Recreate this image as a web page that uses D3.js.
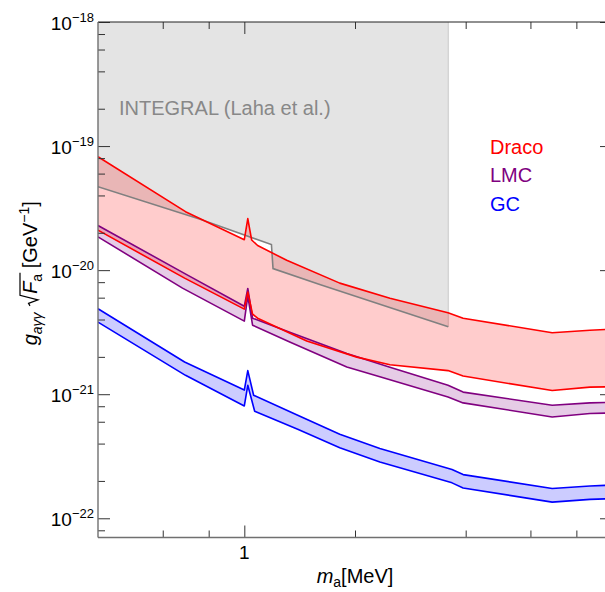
<!DOCTYPE html>
<html>
<head>
<meta charset="utf-8">
<script src="https://cdn.jsdelivr.net/npm/d3@7"></script>
<style>
  body { margin: 0; background: #fff; }
  text { font-family: "Liberation Sans", Arial, sans-serif; }
</style>
</head>
<body>
<div id="chart"></div>
<script>
// ---- data: [m_a (MeV), g*sqrt(F) (GeV^-1)] ----
const integralLine = [[0.4, 4.70e-20], [0.755, 2.58e-20], [1.185, 1.61e-20], [1.197, 1.03e-20], [1.604, 7.67e-21], [3.587, 3.49e-21]];

const dracoUpper = [[0.4, 8.2e-20], [0.692, 2.96e-20], [1.0, 1.76e-20], [1.022, 2.60e-20], [1.047, 1.75e-20], [1.087, 1.58e-20],
  [1.304, 1.20e-20], [1.818, 7.86e-21], [2.489, 5.94e-21], [3.581, 4.54e-21], [3.936, 4.10e-21], [6.876, 3.13e-21], [8.71, 3.28e-21], [10, 3.34e-21]];
const dracoLower = [[0.4, 2.10e-20], [0.688, 8.62e-21], [1.0, 4.85e-21], [1.022, 6.65e-21], [1.053, 4.42e-21], [1.087, 4.10e-21],
  [1.478, 2.68e-21], [2.023, 1.99e-21], [2.489, 1.73e-21], [3.581, 1.55e-21], [3.936, 1.40e-21], [6.876, 1.07e-21], [8.71, 1.14e-21], [10, 1.15e-21]];

const lmcUpper = [[0.4, 2.29e-20], [0.701, 9.11e-21], [1.0, 5.12e-21], [1.022, 7.12e-21], [1.053, 4.10e-21], [1.329, 3.16e-21],
  [1.900, 2.13e-21], [2.489, 1.65e-21], [3.581, 1.18e-21], [3.936, 1.04e-21], [6.876, 8.15e-22], [8.71, 8.51e-22], [10, 8.62e-22]];
const lmcLower = [[0.4, 1.855e-20], [0.679, 7.16e-21], [1.0, 3.88e-21], [1.022, 6.17e-21], [1.053, 3.60e-21], [1.329, 2.64e-21],
  [1.900, 1.66e-21], [2.337, 1.38e-21], [3.581, 9.51e-22], [3.936, 8.51e-22], [6.876, 6.56e-22], [8.71, 6.99e-22], [10, 7.07e-22]];

const gcUpper = [[0.4, 4.89e-21], [0.688, 1.82e-21], [1.0, 1.08e-21], [1.022, 1.55e-21], [1.060, 9.81e-22], [1.397, 6.77e-22],
  [1.818, 4.76e-22], [2.337, 3.65e-22], [3.672, 2.47e-22], [3.936, 2.25e-22], [6.876, 1.74e-22], [8.71, 1.82e-22], [10, 1.85e-22]];
const gcLower = [[0.4, 3.81e-21], [0.692, 1.42e-21], [1.0, 8.04e-22], [1.022, 1.18e-21], [1.067, 7.29e-22], [1.397, 5.22e-22],
  [1.818, 3.70e-22], [2.337, 2.84e-22], [3.672, 1.93e-22], [3.936, 1.755e-22], [6.876, 1.35e-22], [8.71, 1.42e-22], [10, 1.44e-22]];

const seriesNames = ['Draco', 'LMC', 'GC'];
const seriesColors = ['#ff0000', '#800080', '#0000ff'];

const xMajorTicks = [1];
const xMinorTicks = [0.6, 0.8, 2, 4, 6, 8];
const yMajorTicks = [1e-22, 1e-21, 1e-20, 1e-19, 1e-18];
const yMinorTicks = [8e-23].concat([-22, -21, -20, -19].flatMap(e => [2, 4, 6, 8].map(k => k * Math.pow(10, e))));

// ---- layout ----
const svgWidth = 605, svgHeight = 592;
const margin = { left: 98, right: 612, top: 22, bottom: 537.5 };

const svg = d3.select('#chart').append('svg')
  .attr('width', svgWidth)
  .attr('height', svgHeight);

const x = d3.scaleLog().domain([0.4, 10]).range([margin.left, margin.right]);
const y = d3.scaleLog().domain([7e-23, 1e-18]).range([margin.bottom, margin.top]);

svg.append('clipPath').attr('id', 'plot')
  .append('rect').attr('x', margin.left).attr('y', margin.top)
  .attr('width', margin.right - margin.left).attr('height', margin.bottom - margin.top);

const plot = svg.append('g').attr('clip-path', 'url(#plot)');
const line = d3.line().x(d => x(d[0])).y(d => y(d[1]));

// INTEGRAL excluded region
const integralEnd = integralLine[integralLine.length - 1];
const integralArea = [[integralLine[0][0], 1e-18], [integralEnd[0], 1e-18]].concat(integralLine.slice().reverse());
plot.append('path').attr('d', line(integralArea) + 'Z').attr('fill', '#e4e4e4');
plot.append('path').attr('d', line([[integralEnd[0], 1e-18], integralEnd]))
  .attr('stroke', '#d4d4d4').attr('stroke-width', 1.5).attr('fill', 'none');

// bands
const bands = [
  { up: gcUpper, lo: gcLower, color: seriesColors[2] },
  { up: lmcUpper, lo: lmcLower, color: seriesColors[1] },
  { up: dracoUpper, lo: dracoLower, color: seriesColors[0] }
];

bands.forEach(b => {
  plot.append('path')
    .attr('d', line(b.up.concat(b.lo.slice().reverse())) + 'Z')
    .attr('fill', b.color)
    .attr('fill-opacity', 0.2);
});

plot.append('path').attr('d', line(integralLine))
  .attr('fill', 'none').attr('stroke', '#808080').attr('stroke-width', 1.6);

bands.forEach(b => {
  [b.up, b.lo].forEach(arr => {
    plot.append('path').attr('d', line(arr))
      .attr('fill', 'none').attr('stroke', b.color).attr('stroke-width', 1.6)
      .attr('stroke-linejoin', 'round');
  });
});

// ---- axes (ticks inward) ----
function ticks(axis) {
  return g => {
    g.call(axis);
    g.select('.domain').remove();
    g.selectAll('.tick line').attr('stroke', '#333').attr('stroke-width', 1);
    g.selectAll('.tick text').remove();
  };
}
[[xMajorTicks, 12], [xMinorTicks, 7]].forEach(([vals, len]) => {
  svg.append('g').attr('transform', `translate(0,${margin.bottom})`)
    .call(ticks(d3.axisBottom(x).tickValues(vals).tickSize(-len)));
  svg.append('g').attr('transform', `translate(0,${margin.top})`)
    .call(ticks(d3.axisTop(x).tickValues(vals).tickSize(-len)));
});
[[yMajorTicks, 12], [yMinorTicks, 7]].forEach(([vals, len]) => {
  svg.append('g').attr('transform', `translate(${margin.left},0)`)
    .call(ticks(d3.axisLeft(y).tickValues(vals).tickSize(-len)));
  svg.append('g').attr('transform', `translate(${margin.right},0)`)
    .call(ticks(d3.axisRight(y).tickValues(vals).tickSize(-len)));
});

// frame
function frameLine(x1, y1, x2, y2, color, w) {
  svg.append('line').attr('x1', x1).attr('y1', y1).attr('x2', x2).attr('y2', y2)
    .attr('stroke', color).attr('stroke-width', w);
}
frameLine(margin.left, margin.top, margin.right, margin.top, '#222', 1.2);
frameLine(margin.right, margin.top, margin.right, margin.bottom, '#222', 1.2);
frameLine(margin.left, margin.top, margin.left, margin.bottom, '#707070', 1.4);
frameLine(margin.left, margin.bottom, margin.right, margin.bottom, '#707070', 1.4);

// tick labels
yMajorTicks.forEach(v => {
  const t = svg.append('text')
    .attr('x', margin.left - 4).attr('y', y(v) + 8)
    .attr('text-anchor', 'end').attr('font-size', 19);
  t.append('tspan').text('10');
  t.append('tspan').attr('font-size', 13).attr('dy', -8).text('\u2212' + Math.abs(Math.round(Math.log10(v))));
});
xMajorTicks.forEach(v => {
  svg.append('text').attr('x', x(v)).attr('y', 558.5)
    .attr('text-anchor', 'middle').attr('font-size', 19).text(d3.format('')(v));
});

// axis titles
const xt = svg.append('text').attr('x', (margin.left + margin.right) / 2).attr('y', 583)
  .attr('text-anchor', 'middle').attr('font-size', 20);
xt.append('tspan').attr('font-style', 'italic').text('m');
xt.append('tspan').attr('font-size', 14).attr('dy', 4).text('a');
xt.append('tspan').attr('dy', -4).text('[MeV]');

const yg = svg.append('g').attr('transform', `translate(37,${(margin.top + margin.bottom) / 2}) rotate(-90)`);
const yt = yg.append('text').attr('font-size', 20);
yt.append('tspan').attr('font-style', 'italic').text('g');
yt.append('tspan').attr('font-size', 14).attr('dy', 5).attr('font-style', 'italic').text('a\u03b3\u03b3');
yt.append('tspan').attr('dy', -5).text(' ');
yt.append('tspan').attr('font-style', 'italic').attr('dx', 13).text('F');
yt.append('tspan').attr('font-size', 14).attr('dy', 5).text('a');
yt.append('tspan').attr('dy', -5).text(' [GeV');
yt.append('tspan').attr('font-size', 14).attr('dy', -8).text('\u22121');
yt.append('tspan').attr('dy', 8).text(']');
const ytLen = yt.node().getComputedTextLength();
yt.attr('x', -ytLen / 2);
const ytNode = yt.node();
const radStart = ytNode.getEndPositionOfChar(4).x;
const fEnd = ytNode.getEndPositionOfChar(6).x;
yg.append('path')
  .attr('d', `M${radStart + 1},-7 L${radStart + 3.5},-8.5 L${radStart + 7},1 L${radStart + 11.5},-17 L${fEnd + 1},-17`)
  .attr('fill', 'none').attr('stroke', '#000').attr('stroke-width', 1.2);

// labels
svg.append('text').attr('x', 119).attr('y', 114.5).attr('font-size', 20).attr('fill', '#888')
  .text('INTEGRAL (Laha et al.)');

seriesNames.forEach((name, i) => {
  svg.append('text').attr('x', 490).attr('y', 154 + i * 28.3)
    .attr('font-size', 20).attr('fill', seriesColors[i]).text(name);
});
</script>
</body>
</html>
